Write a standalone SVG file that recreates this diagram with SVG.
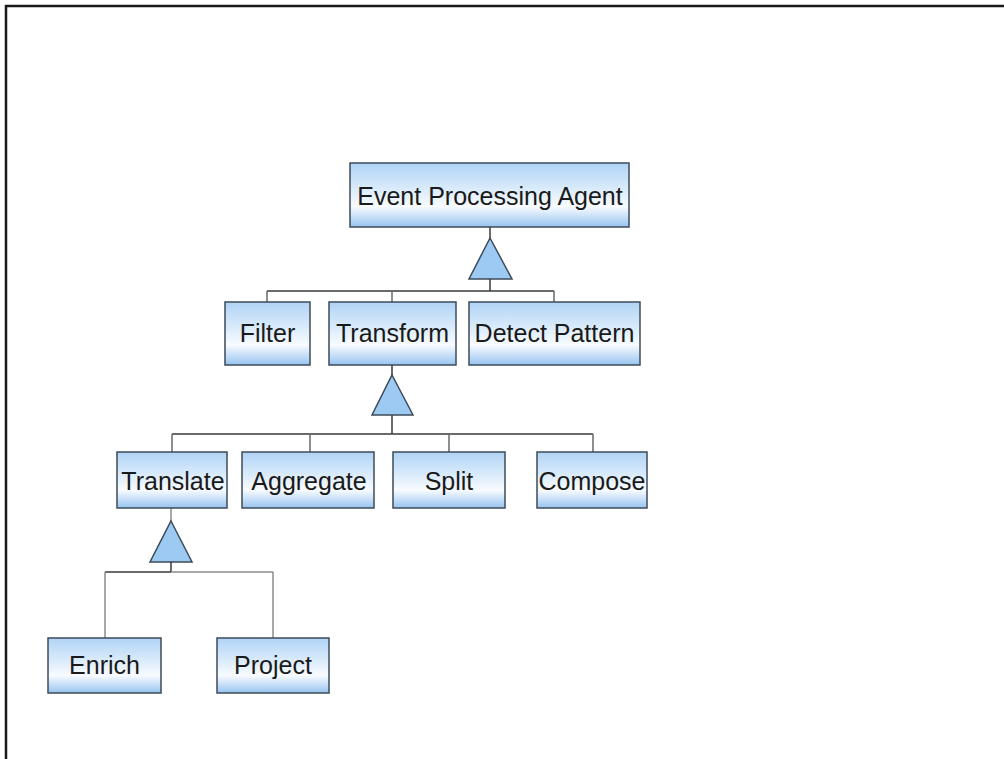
<svg xmlns="http://www.w3.org/2000/svg" width="1004" height="759" viewBox="0 0 1004 759">
  <defs>
    <linearGradient id="boxFill" x1="0" y1="0" x2="0" y2="1">
      <stop offset="0" stop-color="#b0d3f5"/>
      <stop offset="0.35" stop-color="#d4e8fa"/>
      <stop offset="0.68" stop-color="#f8fbff"/>
      <stop offset="1" stop-color="#98c4f0"/>
    </linearGradient>
    <style>
      .box { fill: url(#boxFill); stroke: #3d4b5a; stroke-width: 1.5; }
      .label { font-family: "Liberation Sans", Arial, sans-serif; font-size: 25px; fill: #1a1a1a; text-anchor: middle; }
      .tri { fill: #9dcaf3; stroke: #3d4b5a; stroke-width: 1.5; stroke-linejoin: miter; }
      .stem { fill: none; stroke: #3a3a3a; stroke-width: 1.5; }
      .branch { fill: none; stroke: #6a6a6a; stroke-width: 1.5; }
      .soft { fill: none; stroke: #8c8c8c; stroke-width: 1.5; }
      .frame { fill: none; stroke: #1a1a1a; stroke-width: 2.5; }
    </style>
  </defs>

  <rect width="1004" height="759" fill="#ffffff"/>

  <!-- page frame (top and left edges) -->
  <path class="frame" d="M6,759 V6 H1004"/>

  <!-- connectors: generalization trees -->
  <g id="connectors">
    <!-- Event Processing Agent -> Filter / Transform / Detect Pattern -->
    <path class="stem" d="M490,227 V238"/>
    <polygon class="tri" points="490,238 512,279 469,279"/>
    <path class="stem" d="M490,279 V291 M267,291 H554"/>
    <path class="branch" d="M267,291 V302 M392,291 V302 M554,291 V302"/>

    <!-- Transform -> Translate / Aggregate / Split / Compose -->
    <path class="stem" d="M392,365 V375"/>
    <polygon class="tri" points="392,375 413,415 372,415"/>
    <path class="stem" d="M392,415 V434 M172,434 H593"/>
    <path class="branch" d="M172,434 V452 M310,434 V452 M449,434 V452 M593,434 V452"/>

    <!-- Translate -> Enrich / Project -->
    <path class="soft" d="M171,508 V521"/>
    <polygon class="tri" points="171,521 192,562 150,562"/>
    <path class="stem" d="M171,562 V572 M105,572 H171"/>
    <path class="soft" d="M171,572 H273 M105,572 V638 M273,572 V638"/>
  </g>

  <g id="node-event-processing-agent">
    <rect class="box" x="350" y="163" width="279" height="64"/>
    <text class="label" x="490" y="205">Event Processing Agent</text>
  </g>

  <g id="node-filter">
    <rect class="box" x="225" y="302" width="85" height="63"/>
    <text class="label" x="267.5" y="342">Filter</text>
  </g>

  <g id="node-transform">
    <rect class="box" x="329" y="302" width="127" height="63"/>
    <text class="label" x="392.5" y="342">Transform</text>
  </g>

  <g id="node-detect-pattern">
    <rect class="box" x="469" y="302" width="171" height="63"/>
    <text class="label" x="554.5" y="342">Detect Pattern</text>
  </g>

  <g id="node-translate">
    <rect class="box" x="117" y="452" width="110" height="56"/>
    <text class="label" x="173" y="490">Translate</text>
  </g>

  <g id="node-aggregate">
    <rect class="box" x="242" y="452" width="132" height="56"/>
    <text class="label" x="309" y="490">Aggregate</text>
  </g>

  <g id="node-split">
    <rect class="box" x="393" y="452" width="112" height="56"/>
    <text class="label" x="449" y="490">Split</text>
  </g>

  <g id="node-compose">
    <rect class="box" x="537" y="452" width="110" height="56"/>
    <text class="label" x="592" y="490">Compose</text>
  </g>

  <g id="node-enrich">
    <rect class="box" x="48" y="638" width="113" height="55"/>
    <text class="label" x="104.5" y="674">Enrich</text>
  </g>

  <g id="node-project">
    <rect class="box" x="217" y="638" width="112" height="55"/>
    <text class="label" x="273" y="674">Project</text>
  </g>
</svg>
